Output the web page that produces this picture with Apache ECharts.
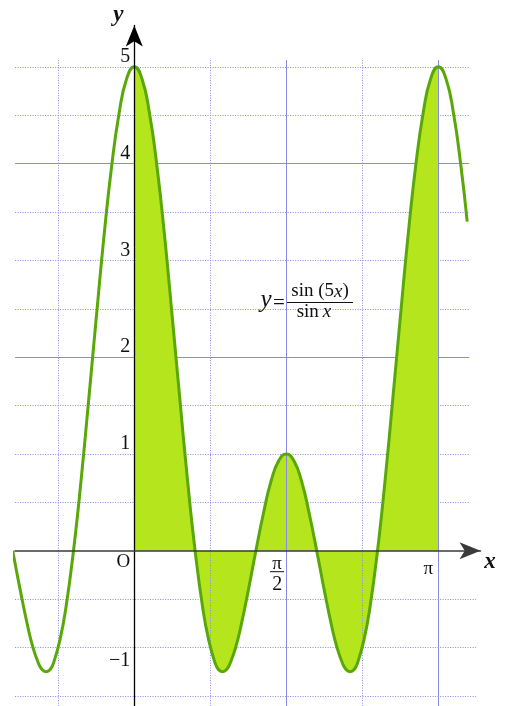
<!DOCTYPE html>
<html><head><meta charset="utf-8">
<script src="https://cdn.jsdelivr.net/npm/echarts@6/dist/echarts.min.js"></script>
<style>html,body{margin:0;padding:0;background:#fff}#c{width:508px;height:706px}</style>
</head><body><div id="c"></div>
<script>
// ---- data: y = sin(5x)/sin(x) ----
const curveX = [-1.2566, -1.1781, -1.0996, -1.05, -0.9916, -0.9516, -0.9116, -0.8716, -0.8316, -0.77,
  -0.7069, -0.6283, -0.5498, -0.4712, -0.3927, -0.3142, -0.2356, -0.1571, -0.0785, 0,
  0.0785, 0.1571, 0.2356, 0.3142, 0.3927, 0.4712, 0.5498, 0.6283, 0.7069, 0.77,
  0.8316, 0.8716, 0.9116, 0.9516, 0.9916, 1.05, 1.0996, 1.1781, 1.2566, 1.3352,
  1.4137, 1.4923, 1.5708, 1.6493, 1.7279, 1.8064, 1.8850, 1.9635, 2.0420, 2.0916,
  2.1500, 2.1900, 2.2300, 2.2700, 2.3100, 2.3716, 2.4347, 2.5133, 2.5918, 2.6704,
  2.7489, 2.8274, 2.9060, 2.9845, 3.0631, 3.1416, 3.2201, 3.2987, 3.3772, 3.44];
const curveY = [0, -0.41, -0.79, -0.99, -1.16, -1.23, -1.25, -1.23, -1.15, -0.93,
  -0.59, 0, 0.73, 1.56, 2.41, 3.24, 3.96, 4.52, 4.88, 5,
  4.88, 4.52, 3.96, 3.24, 2.41, 1.56, 0.73, 0, -0.59, -0.93,
  -1.15, -1.23, -1.25, -1.23, -1.16, -0.99, -0.79, -0.41, 0, 0.39,
  0.72, 0.93, 1, 0.93, 0.72, 0.39, 0, -0.41, -0.79, -0.99,
  -1.16, -1.23, -1.25, -1.23, -1.15, -0.93, -0.59, 0, 0.73, 1.56,
  2.41, 3.24, 3.96, 4.52, 4.88, 5, 4.88, 4.52, 3.96, 3.40];
const fillRange = [0, 3.1416];               // shaded from x = 0 to x = π
const yTickValues = [5, 4, 3, 2, 1, -1];
const yTickLabels = ['5', '4', '3', '2', '1', '\u22121'];
const xTickValues = [1.5708, 3.1416];        // π/2, π
const gridXSolid = [1.5708, 3.1416];
const gridXDotted = [-0.7854, 0.7854, 2.3562];
const gridYSolid = [4, 2];
const gridYDotted = [5, 4.5, 3.5, 3, 2.5, 1.5, 1, 0.5, -0.5, -1, -1.5];

// ---- layout ----
const ORIGIN = [134.3, 550.7], UNIT = 96.77;
const G = { left: 15, top: 25.5, right: 480.5, bottom: 706 };
const xMin = (G.left - ORIGIN[0]) / UNIT, xMax = (G.right - ORIGIN[0]) / UNIT;
const yMax = (ORIGIN[1] - G.top) / UNIT, yMin = (ORIGIN[1] - G.bottom) / UNIT;
const gridLineLeft = -1.232, gridLineRightTop = 3.46, gridLineRightBottom = 3.53;
const gridLineTop = 5.07;

const FONT = "'Liberation Serif','Times New Roman',serif";
const GRID_COLOR = '#8a8ae6';
const dotted = { color: GRID_COLOR, width: 1, type: [1, 1.5] };
const solid = { color: GRID_COLOR, width: 1, type: 'solid' };

const curveData = curveX.map((x, i) => [x, curveY[i]]);
const fillData = curveData.filter(p => p[0] >= fillRange[0] && p[0] <= fillRange[1]);

const hLines = [];
gridYDotted.forEach(v => hLines.push([{ coord: [gridLineLeft, v], lineStyle: dotted }, { coord: [v < 0 ? gridLineRightBottom : gridLineRightTop, v] }]));
gridYSolid.forEach(v => hLines.push([{ coord: [gridLineLeft, v], lineStyle: solid }, { coord: [gridLineRightTop, v] }]));
const vLines = [];
gridXDotted.forEach(v => vLines.push([{ coord: [v, gridLineTop], lineStyle: dotted }, { coord: [v, yMin] }]));
gridXSolid.forEach(v => vLines.push([{ coord: [v, gridLineTop], lineStyle: solid }, { coord: [v, yMin] }]));

const markBase = { silent: true, symbol: ['none', 'none'], label: { show: false }, animation: false, emphasis: { disabled: true } };

const axisCommon = {
  type: 'value', z: 5,
  axisTick: { show: false }, axisLabel: { show: false }, splitLine: { show: false }
};

const option = {
  animation: false,
  grid: { left: G.left, top: G.top, width: G.right - G.left, height: G.bottom - G.top, containLabel: false },
  xAxis: Object.assign({}, axisCommon, {
    min: xMin, max: xMax,
    axisLine: { onZero: true, symbol: ['none', 'arrow'], symbolSize: [12.75, 21], lineStyle: { color: '#3a3a3a', width: 1.5 } }
  }),
  yAxis: Object.assign({}, axisCommon, {
    min: yMin, max: yMax,
    axisLine: { onZero: true, symbol: ['none', 'arrow'], symbolSize: [12.75, 21], lineStyle: { color: '#000', width: 1.3 } }
  }),
  series: [
    { type: 'line', data: [], silent: true, markLine: Object.assign({}, markBase, { z: 1, data: hLines }) },
    { type: 'line', name: 'fill', data: fillData, z: 2, smooth: true, showSymbol: false, silent: true,
      lineStyle: { width: 0 }, areaStyle: { color: '#b5e61d', opacity: 1 } },
    { type: 'line', data: [], silent: true, markLine: Object.assign({}, markBase, { z: 3, data: vLines }) },
    { type: 'line', name: 'curve', data: curveData, z: 4, smooth: true, showSymbol: false, silent: true, clip: false,
      lineStyle: { color: '#5aa70a', width: 3 } }
  ]
};

const chart = echarts.init(document.getElementById('c'), null, { renderer: 'canvas' });
chart.setOption(option);

const px = (x, y) => chart.convertToPixel({ gridIndex: 0 }, [x, y]);
const T = (x, y, text, extra) => ({
  type: 'text', x: x, y: y, z: 100, silent: true,
  style: Object.assign({ text: text, fontFamily: FONT, fontSize: 19, fill: '#111', align: 'center', verticalAlign: 'middle' }, extra || {})
});
const L = (x1, y1, x2, y2) => ({ type: 'line', z: 100, silent: true, shape: { x1, y1, x2, y2 }, style: { stroke: '#111', lineWidth: 1 } });

const g = [];
yTickValues.forEach((v, i) => {
  const p = px(0, v);
  g.push(T(p[0] - 4, p[1] + (v > 0 ? -10 : 13), yTickLabels[i], { align: 'right', fontSize: 20 }));
});
const o = px(0, 0);
g.push(T(o[0] - 4, o[1] + 11.5, 'O', { align: 'right' }));
// π/2
const ph = px(xTickValues[0], 0);
g.push(T(ph[0] - 9.3, ph[1] + 13.5, '\u03c0', { fontSize: 19 }));
g.push(L(ph[0] - 16.3, ph[1] + 21, ph[0] - 2.3, ph[1] + 21));
g.push(T(ph[0] - 9, ph[1] + 34, '2', { fontSize: 20 }));
// π
const pp = px(xTickValues[1], 0);
g.push(T(pp[0] - 10, pp[1] + 18, '\u03c0', { fontSize: 19 }));
// axis names
const xe = px(xMax, 0);
g.push(T(xe[0] + 9.5, xe[1] + 11, 'x', { fontStyle: 'italic', fontWeight: 'bold', fontSize: 23 }));
const ye = px(0, yMax);
g.push(T(ye[0] - 16, ye[1] - 10, 'y', { fontStyle: 'italic', fontWeight: 'bold', fontSize: 23 }));
// formula label
g.push(T(266, 300.5, 'y', { fontStyle: 'italic', fontSize: 25 }));
g.push(T(279, 303, '=', { fontSize: 21 }));
g.push(T(320, 291.5, '{a|sin (5}{b|x}{a|)}', { rich: {
  a: { fontFamily: FONT, fontSize: 19, fill: '#111' },
  b: { fontFamily: FONT, fontSize: 19, fontStyle: 'italic', fill: '#111' } } }));
g.push(L(287, 302.5, 353, 302.5));
g.push(T(314, 312, '{a|sin}{b|x}', { rich: {
  a: { fontFamily: FONT, fontSize: 19, fill: '#111', padding: [0, 4, 0, 0] },
  b: { fontFamily: FONT, fontSize: 19, fontStyle: 'italic', fill: '#111' } } }));

chart.setOption({ graphic: g });
</script>
</body></html>
